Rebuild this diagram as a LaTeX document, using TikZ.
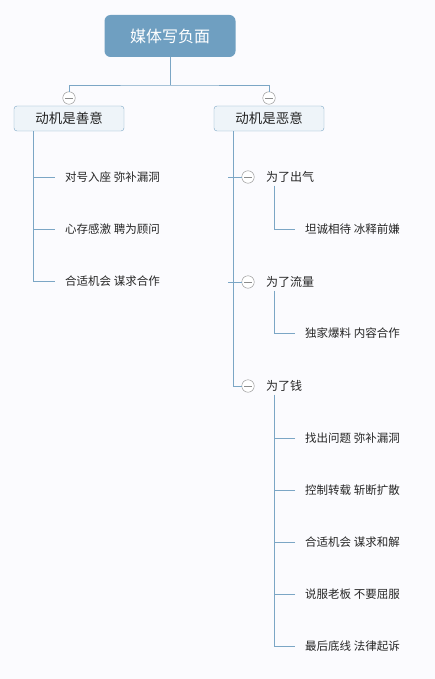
\documentclass[tikz,border=0pt]{standalone}
\usepackage{fontspec}
\setmainfont{Noto Sans CJK SC}
\usepackage{tikz}

\definecolor{rootblue}{HTML}{6F9FC1}
\definecolor{boxfill}{HTML}{EEF4F9}
\definecolor{linkblue}{HTML}{7BA6C5}
\definecolor{foldgray}{HTML}{8C8C8C}
\definecolor{paper}{HTML}{FBFBFE}

\tikzset{
  root/.style={draw=none, fill=rootblue, rounded corners=6pt, minimum width=131pt, minimum height=42pt, text=white, font=\fontsize{16}{16}\selectfont},
  motive/.style={draw=linkblue, fill=boxfill, rounded corners=3pt, minimum width=110pt, minimum height=25pt, text=black!85, font=\fontsize{13.5}{13.5}\selectfont},
  topic/.style={anchor=west, inner xsep=10pt, inner ysep=3pt, text=black!85, font=\fontsize{12}{12}\selectfont},
  leaf/.style={anchor=west, inner xsep=10pt, inner ysep=3pt, text=black!85, font=\fontsize{11.5}{11.5}\selectfont},
  fold/.style={circle, draw=foldgray, fill=white, minimum size=12.5pt, inner sep=0pt,
    path picture={\draw[foldgray] ([xshift=-4pt]path picture bounding box.center) -- ([xshift=4pt]path picture bounding box.center);}},
  link/.style={draw=linkblue, line width=0.9pt}
}

\begin{document}
\begin{tikzpicture}[x=1pt, y=-1pt]
  \fill[paper] (0,0) rectangle (435,679);

  % root and the two motives
  \node[root] (root) at (170,36) {媒体写负面};
  \coordinate (hub) at (170,85);
  \node[fold] (fL) at (69,98) {};
  \node[fold] (fR) at (269,98) {};
  \node[motive] (mL) at (69,118.5) {动机是善意};
  \node[motive] (mR) at (269,118.5) {动机是恶意};
  \draw[link] (root.south) -- (hub);
  \draw[link] (fL.north) |- (hub) -| (fR.north);

  % good motive
  \node[leaf] (g1) at (55,177) {对号入座 弥补漏洞};
  \node[leaf] (g2) at (55,229) {心存感激 聘为顾问};
  \node[leaf] (g3) at (55,281) {合适机会 谋求合作};
  \draw[link] ([xshift=20pt]mL.south west) |- (g3.west);
  \foreach \n in {g1,g2} \draw[link] (\n.west -| g3.west) ++(-21,0) -- (\n.west);

  % bad motive
  \node[fold] (f1) at (248,177) {};
  \node[fold] (f2) at (248,282) {};
  \node[fold] (f3) at (248,386) {};
  \node[topic] (t1) at (256,177) {为了出气};
  \node[topic] (t2) at (256,282) {为了流量};
  \node[topic] (t3) at (256,386) {为了钱};
  \draw[link] ([xshift=20pt]mR.south west) |- (f3.west);
  \foreach \n in {f1,f2} \draw[link] (\n.west) -- ++(-14,0);

  \node[leaf] (a1) at (295,229) {坦诚相待 冰释前嫌};
  \node[leaf] (b1) at (295,333) {独家爆料 内容合作};
  \node[leaf] (c1) at (295,438) {找出问题 弥补漏洞};
  \node[leaf] (c2) at (295,490) {控制转载 斩断扩散};
  \node[leaf] (c3) at (295,542) {合适机会 谋求和解};
  \node[leaf] (c4) at (295,594) {说服老板 不要屈服};
  \node[leaf] (c5) at (295,646) {最后底线 法律起诉};
  \draw[link] ([xshift=18pt]t1.south west) |- (a1.west);
  \draw[link] ([xshift=18pt]t2.south west) |- (b1.west);
  \draw[link] ([xshift=18pt]t3.south west) |- (c5.west);
  \foreach \n in {c1,c2,c3,c4} \draw[link] (\n.west) -- ++(-21,0);
\end{tikzpicture}
\end{document}
